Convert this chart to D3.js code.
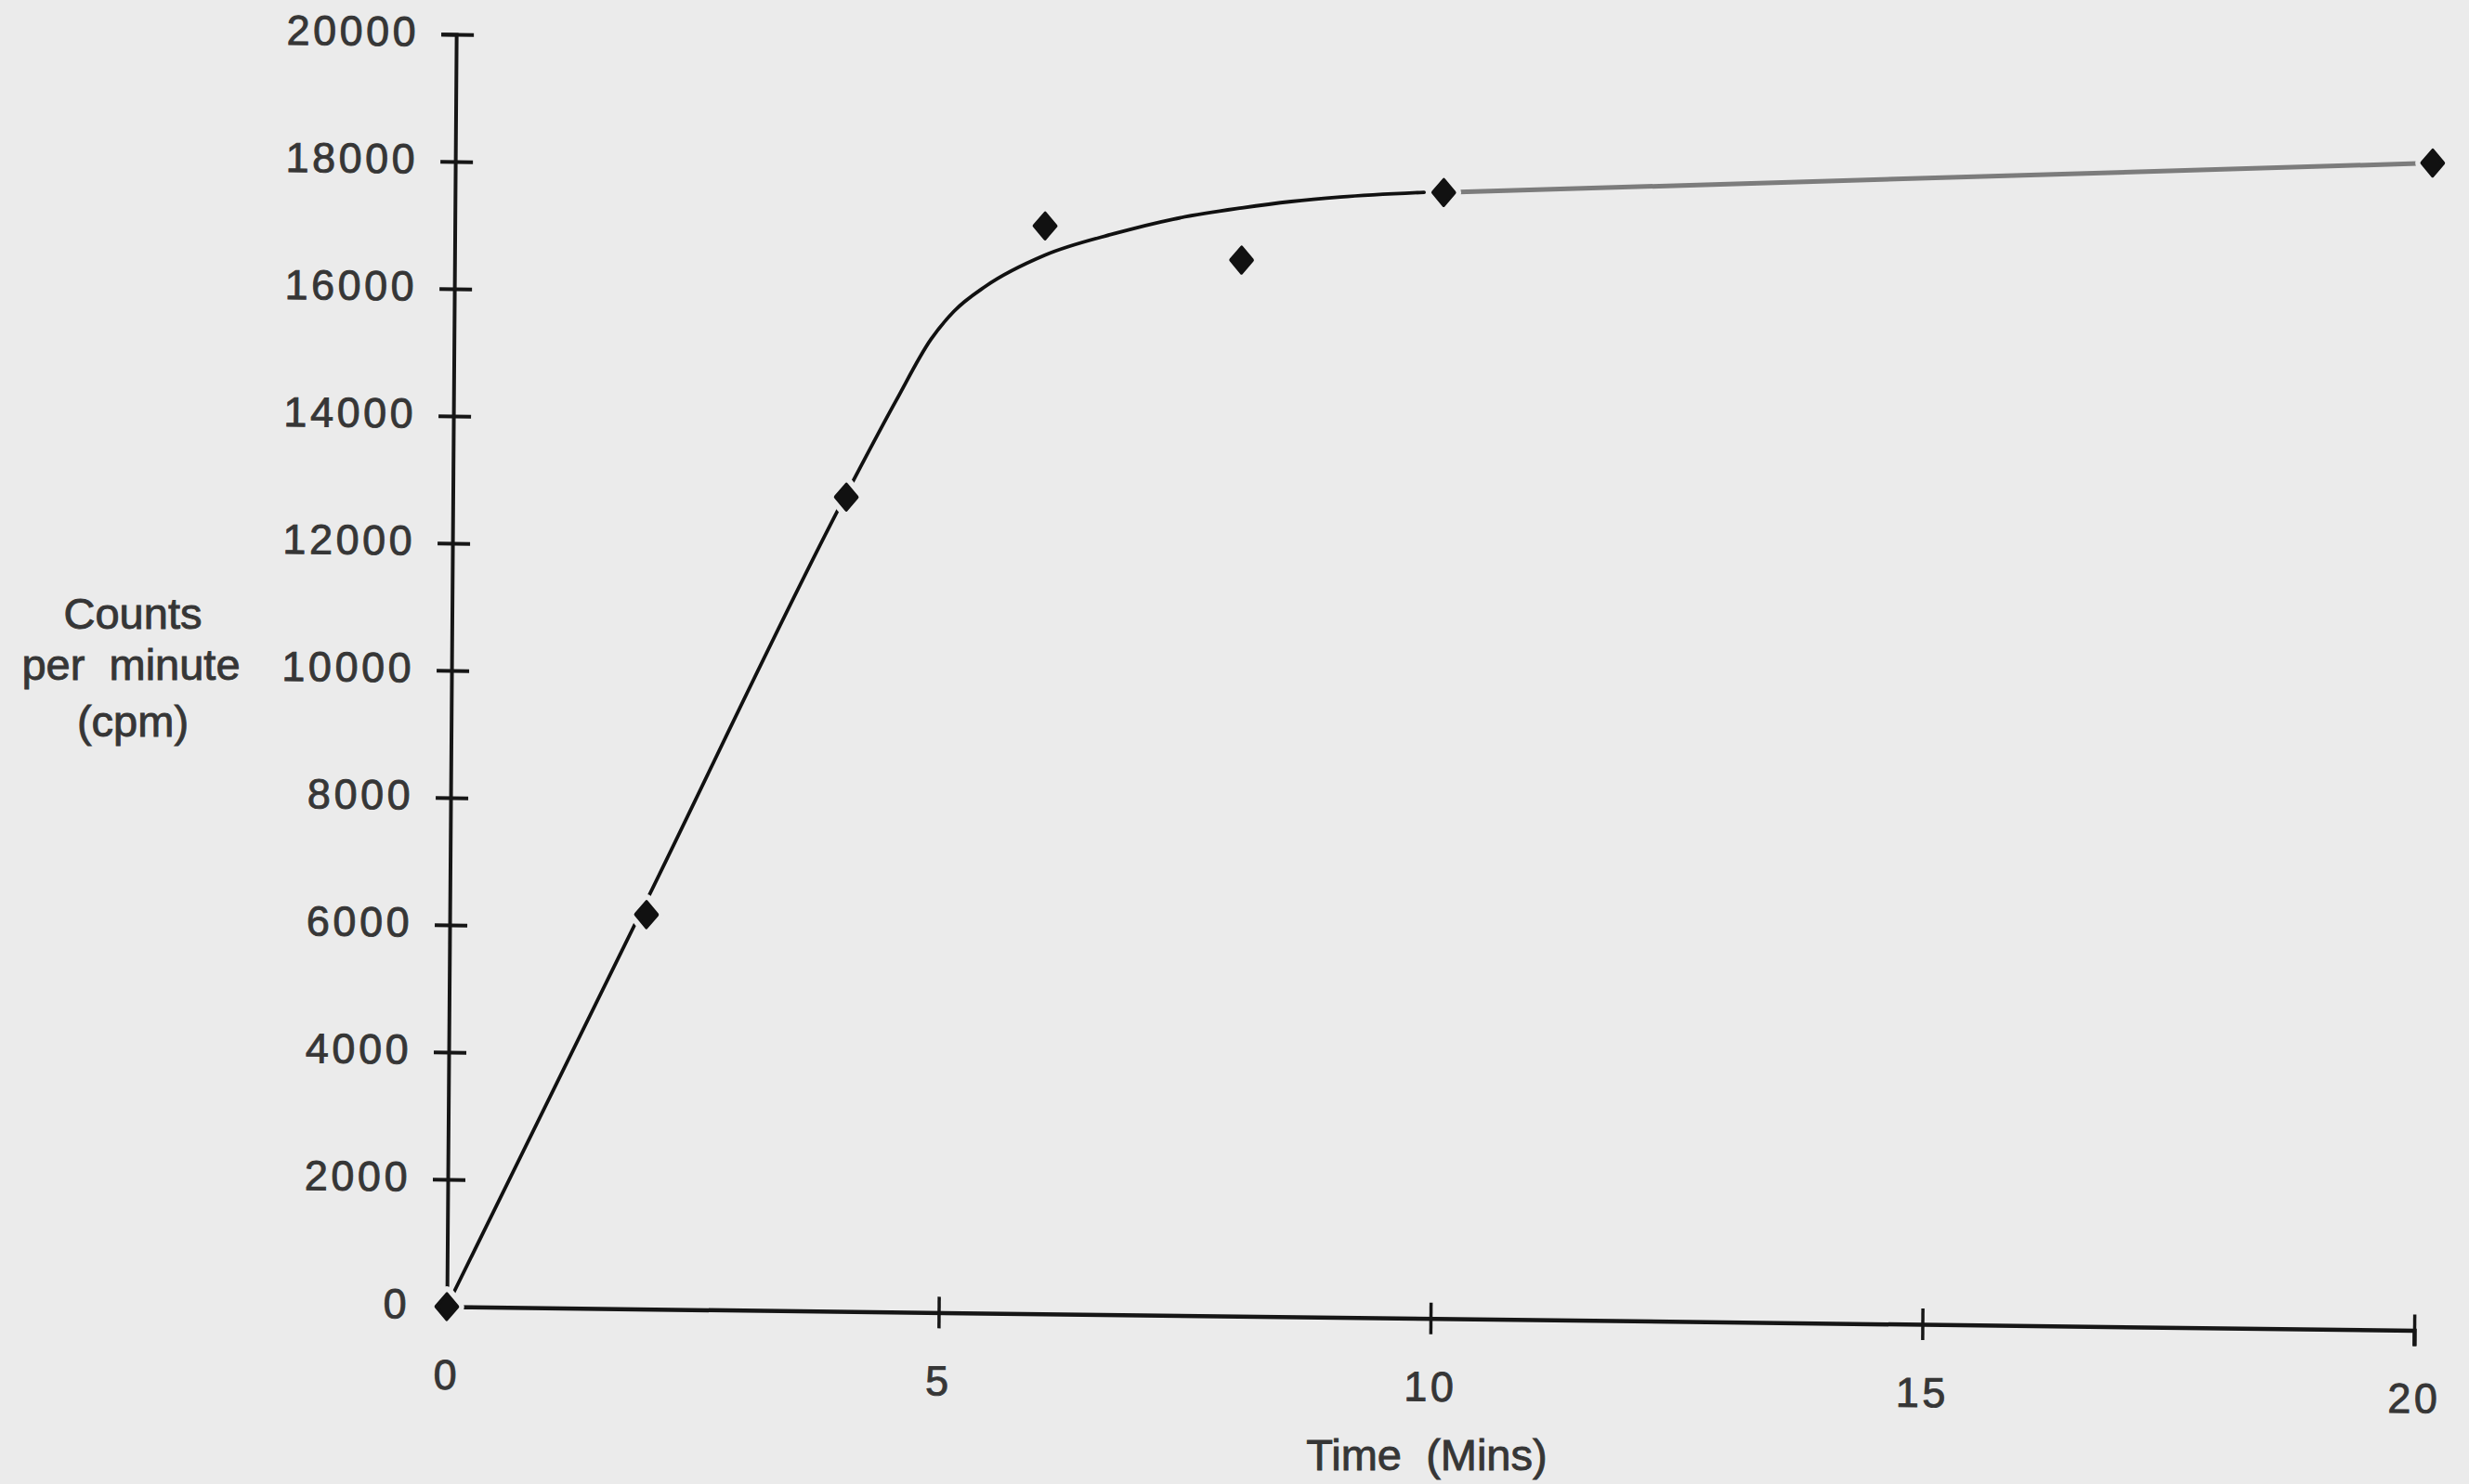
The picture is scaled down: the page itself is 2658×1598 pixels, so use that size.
<!DOCTYPE html>
<html>
<head>
<meta charset="utf-8">
<script src="https://cdn.jsdelivr.net/npm/d3@7"></script>
<style>
  html, body { margin: 0; padding: 0; background: #ebebeb; }
  svg { display: block; }
  text { font-family: "Liberation Sans", Arial, Helvetica, sans-serif; fill: #363636; stroke: #363636; stroke-width: 0.9px; }
</style>
</head>
<body>
<svg id="chart" width="2658" height="1598"></svg>
<script>
// Measured counts (cpm) at each sampling time (minutes)
const timeMin = [0, 2, 4, 6, 8, 10.05, 20.1];
const cpm = [0, 6200, 12800, 17100, 16600, 17700, 18350];

// Hand-fitted curve through the early time course
const fitTime = [0, 2, 4, 4.5, 4.85, 5.08, 5.4, 6.0, 6.7, 7.3, 8.0, 8.5, 9.0, 9.85];
const fitCpm = [0, 6420, 12850, 14330, 15300, 15740, 16140, 16640, 16990, 17230, 17420, 17530, 17610, 17700];

// Axis ticks
const xTicks = [0, 5, 10, 15, 20];
const yTicks = [0, 2000, 4000, 6000, 8000, 10000, 12000, 14000, 16000, 18000, 20000];

const W = 2658, H = 1598;
const x0 = 481, x1 = 2599, yBase = 1407, yTop = 37;
const bg = "#ebebeb";

const svg = d3.select("#chart");
svg.append("rect").attr("width", W).attr("height", H).attr("fill", bg);

const x = d3.scaleLinear().domain([0, 20]).range([x0, x1]);
const y = d3.scaleLinear().domain([0, 20000]).range([yBase, yTop]);

// The printed page sits slightly askew: axes lean by a small shear about the origin
const a = 1, b = 0.012, c = -0.0074, d = 1;
const e = x0 - (a * x0 + c * yBase), f = yBase - (b * x0 + d * yBase);
const g = svg.append("g").attr("transform", `matrix(${a},${b},${c},${d},${e},${f})`);

// Y axis
const yAxis = g.append("g")
  .attr("transform", `translate(${x0},0)`)
  .call(d3.axisLeft(y).tickValues(yTicks).tickSizeOuter(0).tickSize(16).tickFormat(d3.format("d")));
yAxis.select(".domain").attr("stroke", "#161616").attr("stroke-width", 4);
yAxis.selectAll(".tick line").attr("x1", 19).attr("x2", -16).attr("stroke", "#161616").attr("stroke-width", 4);
yAxis.selectAll(".tick text")
  .attr("x", -40).attr("dy", "0.28em")
  .style("font-size", "45px").style("letter-spacing", "3.5px");

// X axis
const xAxis = g.append("g")
  .attr("transform", `translate(0,${yBase})`)
  .call(d3.axisBottom(x).tickValues(xTicks).tickSizeOuter(0).tickSize(17).tickFormat(d3.format("d")));
xAxis.select(".domain").attr("stroke", "#161616").attr("stroke-width", 4.5);
xAxis.selectAll(".tick line").attr("y1", -17).attr("y2", 17).attr("stroke", "#161616").attr("stroke-width", 3.5);
xAxis.selectAll(".tick text")
  .attr("y", 57).attr("dy", "0.71em")
  .style("font-size", "45px").style("letter-spacing", "3.5px");
g.selectAll(".domain").attr("fill", "none");

// Fitted curve
const fitData = fitTime.map((t, i) => ({ t, v: fitCpm[i] }));
const line = d3.line().x(p => x(p.t)).y(p => y(p.v)).curve(d3.curveMonotoneX);
g.append("path")
  .datum(fitData)
  .attr("d", line)
  .attr("fill", "none")
  .attr("stroke", "#111")
  .attr("stroke-width", 3.8)
  .attr("stroke-linecap", "round");

// Plateau segment between the last two readings
const pts = timeMin.map((t, i) => ({ t, v: cpm[i] }));
g.append("path")
  .datum(pts.slice(-2))
  .attr("d", d3.line().x(p => x(p.t)).y(p => y(p.v)))
  .attr("fill", "none")
  .attr("stroke", "#7c7c7c")
  .attr("stroke-width", 5);

// Data markers: filled diamonds with a paper-coloured halo that breaks the lines
const diamond = d3.symbol().type(d3.symbolSquare).size(300);
const marks = g.append("g").selectAll("g").data(pts).join("g")
  .attr("transform", p => `translate(${x(p.t)},${y(p.v)}) scale(0.95,1.12) rotate(45)`);
marks.append("path")
  .attr("d", diamond)
  .attr("fill", bg)
  .attr("stroke", bg)
  .attr("stroke-width", 15)
  .attr("stroke-linejoin", "round");
marks.append("path")
  .attr("d", diamond)
  .attr("fill", "#111")
  .attr("stroke", "#111")
  .attr("stroke-width", 3.5)
  .attr("stroke-linejoin", "round");

// Axis titles
const yLab = svg.append("text")
  .attr("text-anchor", "middle")
  .style("font-size", "47px")
  .style("white-space", "pre");
yLab.append("tspan").attr("x", 143).attr("y", 677).text("Counts");
yLab.append("tspan").attr("x", 141).attr("y", 732).text("per  minute");
yLab.append("tspan").attr("x", 143).attr("y", 793).text("(cpm)");

svg.append("text")
  .attr("x", 1536).attr("y", 1583)
  .attr("text-anchor", "middle")
  .style("font-size", "47px")
  .style("white-space", "pre")
  .text("Time  (Mins)");
</script>
</body>
</html>
